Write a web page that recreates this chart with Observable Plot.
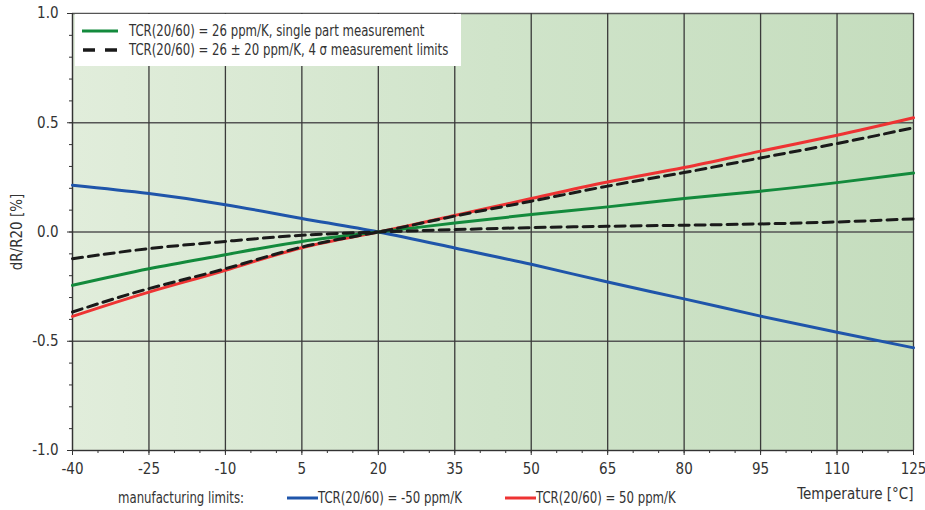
<!DOCTYPE html>
<html>
<head>
<meta charset="utf-8">
<script src="https://cdn.jsdelivr.net/npm/d3@7"></script>
<script src="https://cdn.jsdelivr.net/npm/@observablehq/plot@0.6"></script>
<style>
  html, body { margin: 0; padding: 0; background: #fff; }
  #wrap { position: relative; width: 925px; height: 510px; font-family: "Liberation Sans Narrow", "DejaVu Sans Condensed", "Roboto", sans-serif; color: #333; }
  .lg { position: absolute; font-size: 15px; white-space: nowrap; color: #333; }
  #topLegend { position: absolute; left: 75px; top: 14px; width: 386px; height: 52px; background: #fff; }
  .row { position: absolute; left: 7px; display: flex; align-items: center; font-size: 15px; white-space: nowrap; }
  .row svg { margin-right: 11px; }
  .nar { display: inline-block; transform: scaleX(0.87); transform-origin: 0 50%; }
</style>
</head>
<body>
<div id="wrap"></div>
<script>
// ---- data ----
const temps  = [-40, -25, -10, 5, 20, 35, 50, 65, 80, 95, 110, 125];
const tcrMinus50 = [0.214, 0.176, 0.125, 0.062, 0, -0.073, -0.148, -0.229, -0.306, -0.385, -0.459, -0.530];
const tcrPlus50  = [-0.386, -0.275, -0.175, -0.072, 0, 0.076, 0.153, 0.229, 0.295, 0.370, 0.443, 0.523];
const tcr26      = [-0.244, -0.168, -0.104, -0.043, 0, 0.041, 0.080, 0.115, 0.153, 0.187, 0.226, 0.270];
const tcr46      = [-0.366, -0.259, -0.168, -0.069, 0, 0.073, 0.141, 0.210, 0.272, 0.339, 0.405, 0.477];
const tcr6       = [-0.122, -0.076, -0.043, -0.015, 0, 0.011, 0.020, 0.026, 0.031, 0.037, 0.046, 0.060];

const xTicks = [-40, -25, -10, 5, 20, 35, 50, 65, 80, 95, 110, 125];
const xMinor = d3.range(-40, 126, 5);
const yTicks = [-1, -0.5, 0, 0.5, 1];
const yMinor = d3.range(-10, 11).map(d => d / 10);

const xLabel = "Temperature [°C]";
const yLabel = "dR/R20 [%]";
const legendTop = [
  "TCR(20/60) = 26 ppm/K, single part measurement",
  "TCR(20/60) = 26 ± 20 ppm/K, 4 σ measurement limits"
];
const legendBottom = ["manufacturing limits:", "TCR(20/60) = -50 ppm/K", "TCR(20/60) = 50 ppm/K"];

const toRows = (ys) => temps.map((t, i) => ({t, v: ys[i]}));

const lineOpts = {x: "t", y: "v", curve: "natural", strokeWidth: 3};

const chart = Plot.plot({
  width: 925,
  height: 510,
  marginLeft: 72,
  marginRight: 12,
  marginTop: 13,
  marginBottom: 60,
  style: {fontFamily: '"Liberation Sans Narrow", "DejaVu Sans Condensed", Roboto, sans-serif', fontSize: "15px", color: "#333", background: "transparent"},
  x: {domain: [-40, 125]},
  y: {domain: [-1, 1]},
  marks: [
    Plot.frame({fill: "url(#bgGrad)", stroke: null}),
    Plot.gridY(yTicks, {stroke: "#555", strokeOpacity: 1, strokeWidth: 1.3}),
    Plot.gridX(xTicks, {stroke: "#3a3a3a", strokeOpacity: 1, strokeWidth: 1.3}),
    Plot.axisY(yMinor, {tickSize: 3, text: null, stroke: "#333", label: null}),
    Plot.axisY(yTicks, {tickSize: 5, tickPadding: 9, tickFormat: d => d.toFixed(1), stroke: "#333",
      label: yLabel, labelAnchor: "center", labelArrow: "none", labelOffset: 61}),
    Plot.axisX(xMinor, {tickSize: 3, text: null, stroke: "#333", label: null}),
    Plot.axisX(xTicks, {tickSize: 5, tickPadding: 8, tickFormat: d => String(d), stroke: "#333", label: null}),
    Plot.text([xLabel], {frameAnchor: "bottom-right", textAnchor: "end", dy: 48, fontSize: 15, fill: "#333"}),
    Plot.ruleX([-40], {stroke: "#333", strokeWidth: 1.2}),
    Plot.ruleY([-1], {stroke: "#333", strokeWidth: 1.2}),
    Plot.line(toRows(tcrPlus50), {...lineOpts, stroke: "#ee3333"}),
    Plot.line(toRows(tcrMinus50), {...lineOpts, stroke: "#1f55aa"}),
    Plot.line(toRows(tcr26), {...lineOpts, stroke: "#138a3c"}),
    Plot.line(toRows(tcr46), {...lineOpts, stroke: "#1a1a1a", strokeDasharray: "10,6"}),
    Plot.line(toRows(tcr6), {...lineOpts, stroke: "#1a1a1a", strokeDasharray: "10,6"})
  ]
});

const defs = d3.select(chart).insert("defs", ":first-child");
const grad = defs.append("linearGradient").attr("id", "bgGrad").attr("x1", 0).attr("x2", 1).attr("y1", 0).attr("y2", 0);
grad.append("stop").attr("offset", "0%").attr("stop-color", "#e1eddb");
grad.append("stop").attr("offset", "50%").attr("stop-color", "#d0e4ca");
grad.append("stop").attr("offset", "100%").attr("stop-color", "#c5ddbe");

const wrap = document.getElementById("wrap");
wrap.appendChild(chart);

// top legend
const topLeg = document.createElement("div");
topLeg.id = "topLegend";
topLeg.innerHTML = `
  <div class="row" style="top:8px"><svg width="36" height="6"><line x1="0" x2="36" y1="3" y2="3" stroke="#138a3c" stroke-width="3"/></svg><span class="nar">${legendTop[0]}</span></div>
  <div class="row" style="top:27px"><svg width="36" height="6"><line x1="1" x2="36" y1="3" y2="3" stroke="#1a1a1a" stroke-width="3.5" stroke-dasharray="12,10"/></svg><span class="nar">${legendTop[1]}</span></div>`;
wrap.appendChild(topLeg);

// bottom legend
const botLeg = document.createElement("div");
botLeg.innerHTML = `
  <div class="lg" style="left:118px; top:489px"><span class="nar">${legendBottom[0]}</span></div>
  <div class="lg" style="left:287px; top:489px; display:flex; align-items:center"><svg width="31" height="6"><line x1="0" x2="31" y1="3" y2="3" stroke="#1f55aa" stroke-width="3"/></svg><span class="nar">${legendBottom[1]}</span></div>
  <div class="lg" style="left:505px; top:489px; display:flex; align-items:center"><svg width="31" height="6"><line x1="0" x2="31" y1="3" y2="3" stroke="#ee3333" stroke-width="3"/></svg><span class="nar">${legendBottom[2]}</span></div>`;
wrap.appendChild(botLeg);
</script>
</body>
</html>
